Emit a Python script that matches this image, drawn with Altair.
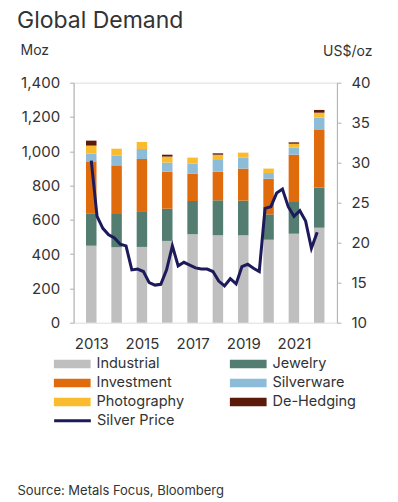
import altair as alt
import numpy as np
import pandas as pd

years = [2013, 2014, 2015, 2016, 2017, 2018, 2019, 2020, 2021, 2022]
industrial = [449, 440, 442, 477, 516, 510, 510, 484, 519, 554]
jewelry = [189, 194, 204, 188, 194, 204, 202, 148, 185, 234]
investment = [303, 284, 309, 216, 159, 167, 187, 208, 276, 336]
silverware = [45, 56, 58, 53, 59, 68, 64, 33, 41, 72]
photography = [47, 41, 41, 35, 35, 31, 29, 26, 23, 29]
dehedging = [29, 0, 0, 11, 0, 8, 0, 0, 8, 16]

categories = ["Industrial", "Jewelry", "Investment", "Silverware", "Photography", "De-Hedging"]
cat_colors = ["#bfbfbf", "#527d70", "#e06b0c", "#8dbcd8", "#fbbb2e", "#5c1a0b"]

# quarterly silver price, 2013 Q1 .. 2022 Q4 (US$/oz)
silver_price = [30.25, 23.3, 21.8, 21.0, 20.6, 19.8, 19.6, 16.6, 16.7, 16.4,
                15.0, 14.7, 14.8, 16.6, 19.6, 17.1, 17.55, 17.2, 16.85, 16.7,
                16.7, 16.4, 15.2, 14.6, 15.5, 14.85, 17.0, 17.3, 16.8, 16.4,
                24.3, 24.5, 26.2, 26.7, 24.5, 23.3, 24.0, 22.7, 19.3, 21.3]

series = [industrial, jewelry, investment, silverware, photography, dehedging]
rows = []
for ci, (cat, vals) in enumerate(zip(categories, series)):
    for y, v in zip(years, vals):
        rows.append({"year": y, "category": cat, "value": v, "order": ci})
bars_df = pd.DataFrame(rows)

line_df = pd.DataFrame({
    "year": np.linspace(2013, 2021.92, len(silver_price)),
    "price": silver_price,
    "series": ["Silver Price"] * len(silver_price),
})

FONT = "Inter"
TXT = "#333333"
AX = "#b0b0b0"

xscale = alt.Scale(domain=[2012.5, 2022.5], nice=False, zero=False)
xaxis = alt.Axis(values=[2013, 2015, 2017, 2019, 2021], format="d", grid=False,
                 domain=False, ticks=False, labelPadding=14, labelFontSize=15,
                 labelColor=TXT, labelFont=FONT,
                 titleX=-56.6, titleY=172,
                 titleAlign="left", titleBaseline="alphabetic", titleFontSize=13,
                 titleFontWeight="normal", titleColor=TXT, titleFont=FONT, titleAnchor="start")
XTITLE = "Source: Metals Focus, Bloomberg"

rect_path = "M-3.06,-0.71H3.06V0.71H-3.06Z"

bars = alt.Chart(bars_df).mark_bar(size=10.5).encode(
    x=alt.X("year:Q", scale=xscale, axis=xaxis, title=XTITLE),
    y=alt.Y("sum(value):Q", stack="zero",
            scale=alt.Scale(domain=[0, 1400], nice=False),
            axis=alt.Axis(values=list(range(0, 1401, 200)), grid=False, format=",d",
                          domainColor=AX, tickColor=AX, tickSize=4, labelPadding=10,
                          labelFontSize=15, labelColor=TXT, labelFont=FONT,
                          title="Moz", titleAngle=0, titleX=-53.6, titleY=-28,
                          titleAlign="left", titleBaseline="alphabetic",
                          titleFontSize=14, titleFontWeight="normal", titleColor=TXT,
                          titleFont=FONT)),
    color=alt.Color("category:N",
                    scale=alt.Scale(domain=categories, range=cat_colors),
                    legend=alt.Legend(orient="none", legendX=-8.6, legendY=274,
                                      columns=2, direction="horizontal", title=None,
                                      symbolType=rect_path,
                                      symbolSize=144, symbolStrokeWidth=0,
                                      labelFontSize=14.5, labelFont=FONT, labelColor=TXT,
                                      labelOffset=17, rowPadding=4, columnPadding=44,
                                      padding=0, symbolOpacity=1)),
    order=alt.Order("order:Q", sort="ascending"),
)

line = alt.Chart(line_df).mark_line(strokeWidth=3).encode(
    x=alt.X("year:Q", scale=xscale, axis=xaxis, title=XTITLE),
    y=alt.Y("price:Q", scale=alt.Scale(domain=[10, 40], nice=False, zero=False),
            axis=alt.Axis(orient="right", values=list(range(10, 41, 5)), grid=False,
                          domainColor=AX, tickColor=AX, tickSize=4, labelPadding=10,
                          labelFontSize=15, labelColor=TXT, labelFont=FONT,
                          title="US$/oz", titleAngle=0, titleX=35, titleY=-27,
                          titleAlign="right", titleBaseline="alphabetic",
                          titleFontSize=14, titleFontWeight="normal", titleColor=TXT,
                          titleFont=FONT)),
    stroke=alt.Stroke("series:N", scale=alt.Scale(domain=["Silver Price"], range=["#1d1a5c"]),
                      legend=alt.Legend(orient="none", legendX=-8.6, legendY=330.5,
                                        title=None, symbolType="M-3.06,0H3.06",
                                        symbolSize=144, symbolStrokeWidth=3,
                                        labelFontSize=14.5, labelFont=FONT, labelColor=TXT,
                                        labelOffset=17, padding=0)),
)

chart = alt.layer(bars, line).resolve_scale(y="independent", color="independent").properties(
    width=263.3, height=240,
    autosize=alt.AutoSizeParams(type="none"),
    padding={"left": 65.6, "top": 74.7, "right": 50, "bottom": 176},
    title=alt.TitleParams("Global Demand", anchor="start", frame="group", dx=-56.6,
                          fontSize=23, fontWeight="normal", color=TXT, font=FONT,
                          offset=11),
).configure_view(stroke=None).configure(font=FONT)

chart.save("out.html", embed_options={"renderer": "svg", "actions": False})
